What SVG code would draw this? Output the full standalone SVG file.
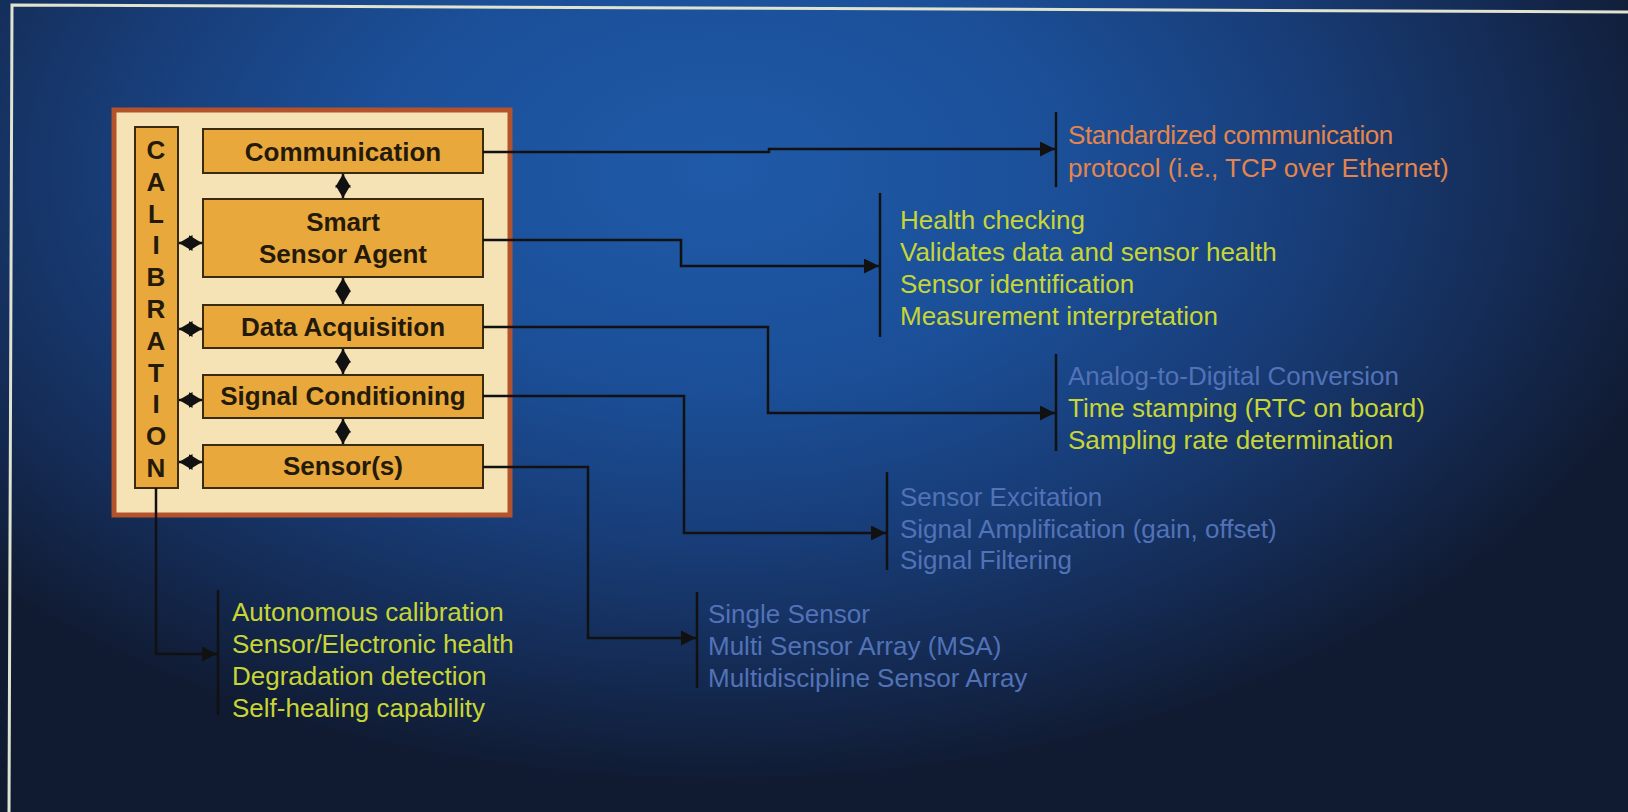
<svg xmlns="http://www.w3.org/2000/svg" width="1628" height="812" viewBox="0 0 1628 812">
  <defs>
    <radialGradient id="bg" gradientUnits="userSpaceOnUse" cx="0" cy="0" r="1" gradientTransform="matrix(1000,0,0,620,720,170)">
      <stop offset="0" stop-color="#1f5aa8"/>
      <stop offset="0.35" stop-color="#1b4f98"/>
      <stop offset="0.6" stop-color="#183d78"/>
      <stop offset="0.82" stop-color="#142a52"/>
      <stop offset="1" stop-color="#101a30"/>
    </radialGradient>
    <marker id="arrow" markerUnits="userSpaceOnUse" markerWidth="17" markerHeight="15" refX="15" refY="7.5" orient="auto-start-reverse">
      <path d="M0,0 L15,7.5 L0,15 Z" fill="#111"/>
    </marker>
    <marker id="tip" markerUnits="userSpaceOnUse" markerWidth="15" markerHeight="18" refX="13.5" refY="9" orient="auto-start-reverse">
      <path d="M0,9 L0,1 L13.5,9 L0,17 Z" fill="#111"/>
    </marker>
  </defs>
  <style>
    .block { fill: #e9a83c; stroke: #3a2a10; stroke-width: 2; }
    .label { font-family: "Liberation Sans", Arial, sans-serif; font-weight: bold; font-size: 26px; fill: #231a0a; text-anchor: middle; }
    .list { font-family: "Liberation Sans", Arial, sans-serif; font-size: 26px; }
    .orange { fill: #e4854c; }
    .lime { fill: #c7d535; }
    .blue { fill: #5272b8; }
    .bar { stroke: #111; stroke-width: 2.5; fill: none; }
    .wire { stroke: #111; stroke-width: 2.5; fill: none; marker-end: url(#arrow); }
    .dbl { stroke: #111; stroke-width: 2.5; fill: none; marker-start: url(#tip); marker-end: url(#tip); }
  </style>

  <!-- backdrop and frame -->
  <rect x="0" y="0" width="1628" height="812" fill="url(#bg)"/>
  <path d="M9,812 L12,5 L1628,12" fill="none" stroke="#dfe3d0" stroke-width="3"/>

  <!-- outer panel -->
  <g id="panel">
    <rect x="114" y="110" width="396" height="405" fill="#f5e3b5" stroke="#b4522c" stroke-width="5"/>
  </g>

  <g id="calibration">
    <rect class="block" x="135" y="127" width="43" height="361"/>
    <g class="label">
      <text x="156" y="159">C</text>
      <text x="156" y="191">A</text>
      <text x="156" y="223">L</text>
      <text x="156" y="254">I</text>
      <text x="156" y="286">B</text>
      <text x="156" y="318">R</text>
      <text x="156" y="350">A</text>
      <text x="156" y="382">T</text>
      <text x="156" y="413">I</text>
      <text x="156" y="445">O</text>
      <text x="156" y="477">N</text>
    </g>
  </g>

  <g id="communication">
    <rect class="block" x="203" y="129" width="280" height="44"/>
    <text class="label" x="343" y="161">Communication</text>
  </g>

  <g id="smart-sensor-agent">
    <rect class="block" x="203" y="199" width="280" height="78"/>
    <text class="label" x="343" y="231">Smart</text>
    <text class="label" x="343" y="263">Sensor Agent</text>
  </g>

  <g id="data-acquisition">
    <rect class="block" x="203" y="305" width="280" height="43"/>
    <text class="label" x="343" y="336">Data Acquisition</text>
  </g>

  <g id="signal-conditioning">
    <rect class="block" x="203" y="375" width="280" height="43"/>
    <text class="label" x="343" y="405">Signal Conditioning</text>
  </g>

  <g id="sensors">
    <rect class="block" x="203" y="445" width="280" height="43"/>
    <text class="label" x="343" y="475">Sensor(s)</text>
  </g>

  <!-- connectors -->
  <g id="connectors">
    <!-- stack links -->
    <path class="dbl" d="M343,174 V198"/>
    <path class="dbl" d="M343,278 V304"/>
    <path class="dbl" d="M343,349 V374"/>
    <path class="dbl" d="M343,419 V444"/>
    <!-- calibration links -->
    <path class="dbl" d="M179,243 H202"/>
    <path class="dbl" d="M179,329 H202"/>
    <path class="dbl" d="M179,400 H202"/>
    <path class="dbl" d="M179,462 H202"/>
    <!-- outputs -->
    <path class="wire" d="M483,152 H769 V149 H1055"/>
    <path class="wire" d="M483,240 H681 V266 H879"/>
    <path class="wire" d="M483,327 H768 V413 H1055"/>
    <path class="wire" d="M483,396 H684 V533 H886"/>
    <path class="wire" d="M483,467 H588 V638 H696"/>
    <path class="wire" d="M156,488 V654 H217"/>
  </g>

  <g id="note-communication">
    <path class="bar" d="M1056,112 V187"/>
    <text class="list orange" x="1068" y="144" letter-spacing="-0.4">Standardized communication</text>
    <text class="list orange" x="1068" y="177">protocol (i.e., TCP over Ethernet)</text>
  </g>

  <g id="note-agent">
    <path class="bar" d="M880,193 V337"/>
    <text class="list lime" x="900" y="229">Health checking</text>
    <text class="list lime" x="900" y="261">Validates data and sensor health</text>
    <text class="list lime" x="900" y="293">Sensor identification</text>
    <text class="list lime" x="900" y="325">Measurement interpretation</text>
  </g>

  <g id="note-acquisition">
    <path class="bar" d="M1056,354 V451"/>
    <text class="list blue" x="1068" y="385">Analog-to-Digital Conversion</text>
    <text class="list lime" x="1068" y="417">Time stamping (RTC on board)</text>
    <text class="list lime" x="1068" y="449">Sampling rate determination</text>
  </g>

  <g id="note-conditioning">
    <path class="bar" d="M887,472 V570"/>
    <text class="list blue" x="900" y="506">Sensor Excitation</text>
    <text class="list blue" x="900" y="538">Signal Amplification (gain, offset)</text>
    <text class="list blue" x="900" y="569">Signal Filtering</text>
  </g>

  <g id="note-sensors">
    <path class="bar" d="M697,592 V688"/>
    <text class="list blue" x="708" y="623">Single Sensor</text>
    <text class="list blue" x="708" y="655">Multi Sensor Array (MSA)</text>
    <text class="list blue" x="708" y="687">Multidiscipline Sensor Array</text>
  </g>

  <g id="note-calibration">
    <path class="bar" d="M218,590 V715"/>
    <text class="list lime" x="232" y="621">Autonomous calibration</text>
    <text class="list lime" x="232" y="653">Sensor/Electronic health</text>
    <text class="list lime" x="232" y="685">Degradation detection</text>
    <text class="list lime" x="232" y="717">Self-healing capability</text>
  </g>
</svg>
